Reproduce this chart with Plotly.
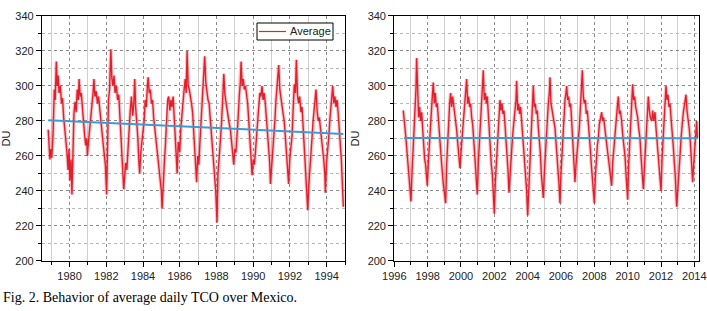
import plotly.graph_objects as go

# daily TCO over Mexico (decimal year, DU)
left_year = [1978.84, 1978.88, 1978.93, 1978.98, 1979.03, 1979.10, 1979.17, 1979.22, 1979.28, 1979.33,
             1979.38, 1979.43, 1979.50, 1979.56, 1979.62, 1979.68, 1979.74, 1979.80, 1979.86, 1979.92,
             1979.97, 1980.02, 1980.08, 1980.13, 1980.18, 1980.24, 1980.30, 1980.36, 1980.42, 1980.48,
             1980.52, 1980.58, 1980.64, 1980.70, 1980.76, 1980.82, 1980.88, 1980.94, 1980.97, 1981.03,
             1981.10, 1981.16, 1981.22, 1981.28, 1981.33, 1981.38, 1981.45, 1981.52, 1981.58, 1981.64,
             1981.70, 1981.76, 1981.82, 1981.88, 1981.95, 1982.02, 1982.07, 1982.12, 1982.18, 1982.25,
             1982.30, 1982.36, 1982.42, 1982.48, 1982.55, 1982.62, 1982.68, 1982.74, 1982.80, 1982.86,
             1982.92, 1982.95, 1983.00, 1983.06, 1983.12, 1983.18, 1983.24, 1983.30, 1983.37, 1983.44,
             1983.50, 1983.55, 1983.60, 1983.66, 1983.72, 1983.78, 1983.82, 1983.88, 1983.94, 1984.00,
             1984.06, 1984.12, 1984.18, 1984.24, 1984.28, 1984.34, 1984.40, 1984.46, 1984.52, 1984.58,
             1984.64, 1984.70, 1984.76, 1984.82, 1984.88, 1984.94, 1985.00, 1985.04, 1985.10, 1985.16,
             1985.22, 1985.28, 1985.34, 1985.40, 1985.46, 1985.52, 1985.58, 1985.64, 1985.70, 1985.76,
             1985.82, 1985.86, 1985.92, 1986.00, 1986.06, 1986.12, 1986.18, 1986.24, 1986.30, 1986.35,
             1986.40, 1986.46, 1986.52, 1986.58, 1986.64, 1986.70, 1986.76, 1986.82, 1986.88, 1986.92,
             1986.98, 1987.04, 1987.10, 1987.16, 1987.22, 1987.28, 1987.36, 1987.42, 1987.48, 1987.54,
             1987.60, 1987.66, 1987.72, 1987.78, 1987.84, 1987.90, 1987.96, 1988.03, 1988.08, 1988.14,
             1988.20, 1988.26, 1988.32, 1988.40, 1988.46, 1988.52, 1988.58, 1988.64, 1988.70, 1988.76,
             1988.82, 1988.88, 1988.94, 1989.00, 1989.06, 1989.12, 1989.18, 1989.24, 1989.30, 1989.34,
             1989.40, 1989.46, 1989.52, 1989.58, 1989.64, 1989.70, 1989.76, 1989.82, 1989.88, 1989.94,
             1990.00, 1990.06, 1990.12, 1990.18, 1990.24, 1990.30, 1990.36, 1990.42, 1990.48, 1990.54,
             1990.60, 1990.66, 1990.72, 1990.78, 1990.84, 1990.90, 1990.94, 1991.00, 1991.06, 1991.12,
             1991.18, 1991.24, 1991.30, 1991.36, 1991.39, 1991.45, 1991.51, 1991.57, 1991.63, 1991.69,
             1991.75, 1991.81, 1991.87, 1991.93, 1991.99, 1992.05, 1992.12, 1992.18, 1992.24, 1992.30,
             1992.35, 1992.41, 1992.47, 1992.53, 1992.60, 1992.66, 1992.72, 1992.78, 1992.84, 1992.90,
             1992.97, 1993.02, 1993.08, 1993.14, 1993.20, 1993.26, 1993.32, 1993.38, 1993.42, 1993.48,
             1993.54, 1993.60, 1993.66, 1993.72, 1993.78, 1993.84, 1993.90, 1993.93, 1993.99, 1994.05,
             1994.11, 1994.17, 1994.23, 1994.29, 1994.33, 1994.39, 1994.45, 1994.51, 1994.57, 1994.63,
             1994.69, 1994.75, 1994.80, 1994.84, 1994.88, 1994.91]
left_du = [275, 262, 258, 264, 259, 272, 298, 292, 314, 300,
           306, 296, 300, 290, 293, 282, 276, 268, 262, 252,
           264, 246, 258, 238, 262, 284, 291, 285, 298, 292,
           304, 294, 296, 285, 280, 272, 266, 270, 260, 268,
           275, 282, 290, 296, 304, 294, 297, 290, 294, 287,
           278, 275, 268, 262, 255, 238, 275, 292, 298, 321,
           305, 300, 306, 296, 300, 292, 295, 284, 272, 258,
           245, 241, 248, 256, 252, 266, 280, 285, 294, 283,
           290, 304, 288, 280, 270, 256, 250, 262, 268, 272,
           280, 292, 288, 300, 305, 296, 298, 290, 292, 282,
           276, 270, 262, 258, 252, 246, 240, 230, 248, 256,
           266, 276, 292, 294, 286, 292, 288, 294, 282, 272,
           258, 250, 268, 262, 276, 285, 290, 298, 304, 296,
           320, 300, 298, 295, 290, 285, 272, 262, 253, 245,
           260, 255, 268, 280, 288, 300, 317, 302, 296, 292,
           290, 282, 270, 265, 256, 250, 240, 222, 250, 258,
           266, 276, 288, 307, 295, 290, 285, 282, 278, 275,
           266, 262, 255, 264, 262, 270, 282, 294, 302, 314,
           300, 304, 298, 300, 296, 290, 280, 268, 262, 249,
           258, 255, 262, 272, 282, 290, 296, 294, 300, 292,
           296, 290, 282, 272, 265, 256, 244, 252, 262, 270,
           280, 292, 300, 305, 312, 298, 292, 290, 284, 280,
           272, 264, 256, 244, 258, 266, 272, 288, 301, 296,
           315, 295, 290, 294, 285, 288, 276, 268, 260, 248,
           229, 242, 250, 258, 270, 280, 286, 292, 298, 286,
           280, 282, 276, 270, 268, 258, 250, 239, 256, 262,
           270, 280, 290, 294, 300, 290, 294, 288, 292, 284,
           276, 270, 258, 248, 240, 231]

right_year = [1996.54, 1996.58, 1996.64, 1996.70, 1996.76, 1996.82, 1996.88, 1996.94, 1997.00, 1997.06,
              1997.12, 1997.18, 1997.24, 1997.30, 1997.34, 1997.40, 1997.46, 1997.52, 1997.58, 1997.64,
              1997.70, 1997.76, 1997.82, 1997.88, 1997.94, 1997.98, 1998.04, 1998.10, 1998.16, 1998.22,
              1998.28, 1998.34, 1998.40, 1998.46, 1998.52, 1998.58, 1998.64, 1998.70, 1998.76, 1998.82,
              1998.88, 1998.94, 1999.02, 1999.08, 1999.14, 1999.20, 1999.26, 1999.32, 1999.38, 1999.44,
              1999.50, 1999.56, 1999.62, 1999.68, 1999.74, 1999.80, 1999.86, 1999.94, 2000.00, 2000.06,
              2000.12, 2000.18, 2000.24, 2000.30, 2000.34, 2000.40, 2000.46, 2000.52, 2000.58, 2000.64,
              2000.70, 2000.76, 2000.82, 2000.88, 2000.94, 2000.98, 2001.04, 2001.10, 2001.16, 2001.22,
              2001.28, 2001.34, 2001.40, 2001.46, 2001.52, 2001.58, 2001.64, 2001.70, 2001.76, 2001.82,
              2001.88, 2001.94, 2002.00, 2002.06, 2002.12, 2002.18, 2002.24, 2002.30, 2002.34, 2002.40,
              2002.46, 2002.52, 2002.58, 2002.64, 2002.70, 2002.76, 2002.82, 2002.88, 2002.94, 2003.00,
              2003.06, 2003.12, 2003.18, 2003.24, 2003.30, 2003.34, 2003.40, 2003.46, 2003.52, 2003.58,
              2003.64, 2003.70, 2003.76, 2003.82, 2003.88, 2003.94, 2004.00, 2004.06, 2004.12, 2004.18,
              2004.24, 2004.30, 2004.34, 2004.40, 2004.46, 2004.52, 2004.58, 2004.64, 2004.70, 2004.76,
              2004.82, 2004.88, 2004.94, 2005.00, 2005.06, 2005.12, 2005.18, 2005.24, 2005.30, 2005.34,
              2005.40, 2005.46, 2005.52, 2005.58, 2005.64, 2005.70, 2005.76, 2005.82, 2005.88, 2005.94,
              2006.00, 2006.06, 2006.12, 2006.18, 2006.24, 2006.30, 2006.34, 2006.40, 2006.46, 2006.52,
              2006.58, 2006.64, 2006.70, 2006.76, 2006.84, 2006.90, 2006.96, 2007.04, 2007.10, 2007.16,
              2007.22, 2007.28, 2007.34, 2007.40, 2007.46, 2007.52, 2007.58, 2007.64, 2007.70, 2007.76,
              2007.82, 2007.88, 2007.94, 2008.00, 2008.06, 2008.12, 2008.18, 2008.24, 2008.30, 2008.38,
              2008.44, 2008.50, 2008.56, 2008.64, 2008.70, 2008.76, 2008.84, 2008.92, 2008.98, 2009.04,
              2009.10, 2009.16, 2009.24, 2009.30, 2009.38, 2009.44, 2009.50, 2009.56, 2009.64, 2009.70,
              2009.76, 2009.84, 2009.90, 2009.96, 2010.00, 2010.06, 2010.12, 2010.18, 2010.24, 2010.30,
              2010.36, 2010.42, 2010.48, 2010.54, 2010.60, 2010.66, 2010.74, 2010.80, 2010.86, 2010.94,
              2011.00, 2011.06, 2011.14, 2011.20, 2011.24, 2011.30, 2011.36, 2011.44, 2011.50, 2011.56,
              2011.64, 2011.70, 2011.76, 2011.84, 2011.92, 2012.00, 2012.06, 2012.12, 2012.18, 2012.24,
              2012.30, 2012.36, 2012.42, 2012.48, 2012.54, 2012.60, 2012.66, 2012.74, 2012.80, 2012.86,
              2012.94, 2013.00, 2013.06, 2013.14, 2013.20, 2013.28, 2013.34, 2013.42, 2013.50, 2013.56,
              2013.62, 2013.70, 2013.76, 2013.84, 2013.90, 2013.96, 2014.04, 2014.10, 2014.14, 2014.18]
right_du = [286, 280, 276, 270, 262, 255, 250, 242, 234, 250,
            262, 272, 280, 298, 316, 290, 282, 288, 280, 285,
            275, 266, 258, 255, 248, 243, 256, 266, 275, 290,
            294, 302, 290, 296, 288, 290, 280, 272, 266, 258,
            250, 244, 238, 233, 255, 270, 282, 290, 296, 288,
            294, 290, 284, 280, 275, 268, 262, 253, 262, 270,
            275, 284, 290, 296, 304, 290, 294, 288, 290, 282,
            278, 270, 260, 250, 244, 238, 256, 268, 280, 290,
            296, 309, 292, 296, 290, 294, 284, 272, 262, 255,
            250, 240, 227, 245, 255, 268, 280, 288, 292, 286,
            290, 284, 286, 278, 270, 264, 252, 239, 250, 258,
            266, 274, 280, 285, 292, 303, 286, 290, 284, 288,
            280, 276, 270, 258, 250, 240, 226, 244, 252, 266,
            280, 290, 300, 288, 290, 284, 286, 276, 270, 262,
            250, 244, 236, 250, 262, 270, 280, 290, 296, 305,
            290, 286, 285, 280, 276, 268, 262, 252, 244, 233,
            250, 262, 270, 280, 292, 296, 300, 292, 294, 288,
            290, 280, 270, 262, 245, 255, 260, 270, 276, 285,
            296, 309, 294, 290, 292, 284, 286, 280, 272, 264,
            255, 248, 240, 233, 248, 258, 266, 270, 278, 282,
            285, 280, 282, 275, 270, 266, 260, 252, 246, 243,
            256, 264, 270, 280, 288, 294, 284, 286, 280, 272,
            268, 260, 250, 242, 235, 255, 265, 278, 290, 301,
            292, 294, 288, 285, 282, 276, 270, 260, 252, 241,
            252, 262, 270, 282, 294, 286, 282, 280, 286, 280,
            285, 276, 268, 260, 250, 240, 258, 270, 282, 292,
            300, 292, 295, 288, 290, 282, 276, 265, 256, 248,
            231, 242, 252, 260, 270, 280, 285, 290, 295, 286,
            282, 275, 268, 256, 245, 255, 265, 272, 280, 270]

# linear trend end points
left_trend_year = [1978.84, 1994.91]
left_trend_du = [280.4, 272.6]
right_trend_year = [1996.58, 2014.18]
right_trend_du = [270.3, 270.1]

red = '#e41f2b'
blue = '#3d9ad6'
font = dict(family='Liberation Sans, Arial, sans-serif', size=11, color='#222')

fig = go.Figure()
for xs, ys, xa, ya in [(left_year, left_du, 'x', 'y'), (right_year, right_du, 'x2', 'y2')]:
    # soft halo to mimic the dense daily band
    fig.add_trace(go.Scatter(x=xs, y=ys, mode='lines', showlegend=False, hoverinfo='skip',
                             line=dict(color='rgba(235,90,100,0.35)', width=3.6), xaxis=xa, yaxis=ya))
    fig.add_trace(go.Scatter(x=xs, y=ys, mode='lines', showlegend=False,
                             line=dict(color=red, width=1.4), xaxis=xa, yaxis=ya))
fig.add_trace(go.Scatter(x=left_trend_year, y=left_trend_du, mode='lines', showlegend=False,
                         line=dict(color=blue, width=2), xaxis='x', yaxis='y'))
fig.add_trace(go.Scatter(x=right_trend_year, y=right_trend_du, mode='lines', showlegend=False,
                         line=dict(color=blue, width=2), xaxis='x2', yaxis='y2'))

axis_common = dict(showline=True, linecolor='black', linewidth=1.2, mirror=True,
                   ticks='outside', ticklen=5, tickcolor='black', tickfont=font,
                   showgrid=True, gridcolor='#8a8a8a', griddash='dot', gridwidth=1,
                   zeroline=False, automargin=False)

ydom = [0.161, 0.9486]
fig.update_layout(
    width=707, height=311,
    margin=dict(l=0, r=0, t=0, b=0, autoexpand=False),
    paper_bgcolor='white', plot_bgcolor='white',
    showlegend=False,
    xaxis=dict(domain=[0.0594, 0.488], range=[1978.5, 1995.0], tick0=1980, dtick=2,
               minor=dict(tick0=1979, dtick=1, ticks='outside', ticklen=3, tickcolor='black',
                          showgrid=True, gridcolor='#cfcfcf', griddash='solid'),
               anchor='y', **axis_common),
    yaxis=dict(domain=ydom, range=[200, 340], dtick=20,
               minor=dict(dtick=10, ticks='outside', ticklen=3, tickcolor='black',
                          showgrid=True, gridcolor='#b8b8b8', griddash='dot'),
               title=dict(text='DU', font=font, standoff=11), anchor='x', **axis_common),
    xaxis2=dict(domain=[0.5577, 0.9887], range=[1996, 2014.28], tick0=1996, dtick=2,
                minor=dict(tick0=1997, dtick=1, ticks='outside', ticklen=3, tickcolor='black',
                           showgrid=True, gridcolor='#cfcfcf', griddash='solid'),
                anchor='y2', **axis_common),
    yaxis2=dict(domain=ydom, range=[200, 340], dtick=20,
                minor=dict(dtick=10, ticks='outside', ticklen=3, tickcolor='black',
                           showgrid=True, gridcolor='#b8b8b8', griddash='dot'),
                title=dict(text='DU', font=font, standoff=5), anchor='x2', **axis_common),
)

# legend box drawn by hand (compact, like the original)
fig.add_shape(type='rect', xref='paper', yref='paper', x0=257 / 707, x1=333 / 707,
              y0=1 - 40 / 311, y1=1 - 23 / 311, line=dict(color='black', width=1), fillcolor='white')
fig.add_shape(type='line', xref='paper', yref='paper', x0=259 / 707, x1=286 / 707,
              y0=1 - 31.5 / 311, y1=1 - 31.5 / 311, line=dict(color=red, width=1.2))
fig.add_annotation(text='Average', xref='paper', yref='paper', x=288 / 707, y=1 - 31.5 / 311,
                   xanchor='left', yanchor='middle', showarrow=False, font=font)

fig.add_annotation(text='Fig. 2. Behavior of average daily TCO over Mexico.',
                   xref='paper', yref='paper', x=0.002, y=0.045, xanchor='left', yanchor='middle',
                   showarrow=False,
                   font=dict(family='Liberation Serif, Times New Roman, serif', size=14, color='black'))

# drop the default page margin so the figure sits at the window's corner
fig.write_html("out.html", config={'displayModeBar': False},
               post_script="document.body.style.margin='0';")
